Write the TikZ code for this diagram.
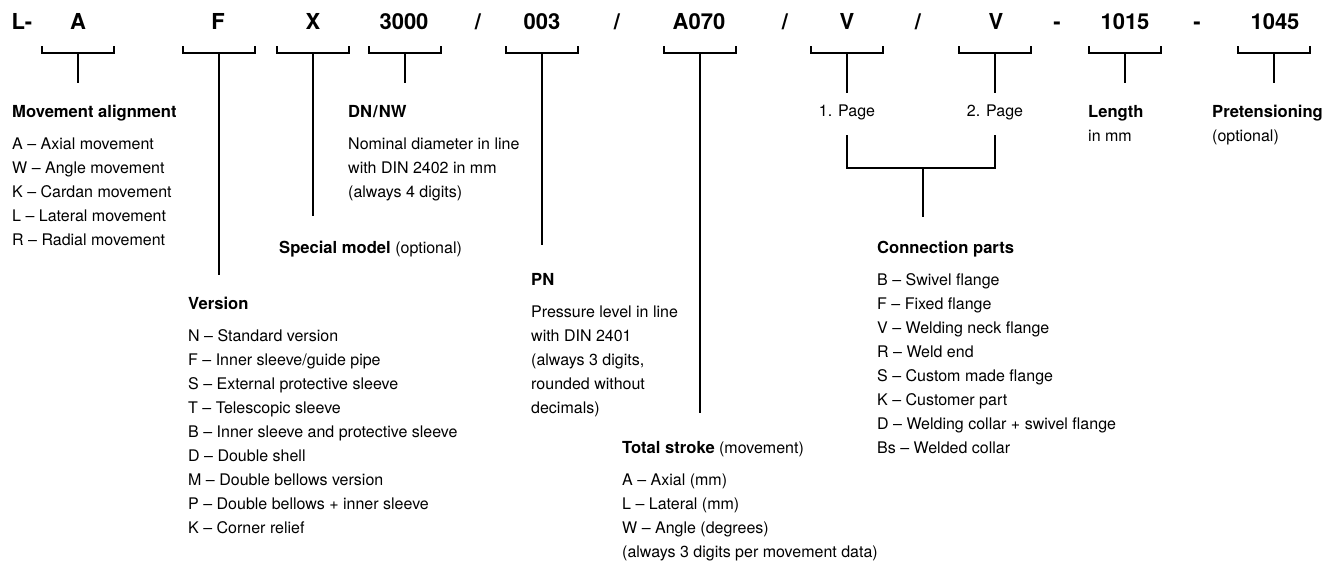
\documentclass[tikz,border=0pt]{standalone}
\usepackage{fontspec}
\setmainfont{TeX Gyre Heros}
\newcommand{\hd}[1]{{\fontsize{16.6}{24}\selectfont\bfseries #1}}

\begin{document}
\begin{tikzpicture}[x=1pt, y=-1pt,
    code/.style={font=\fontsize{22}{22}\selectfont\bfseries, inner sep=0pt, anchor=base},
    brk/.style={line width=2.5pt},
    info/.style={font=\fontsize{16}{24}\selectfont, align=left, anchor=north west, inner sep=0pt},
    page/.style={font=\fontsize{16}{24}\selectfont, inner sep=0pt, anchor=base}]

    \useasboundingbox (0,0) rectangle (1333,563);

    % Type code
    \node[code] (cL)  at (22,29.8)   {L-};
    \node[code] (cA)  at (78,29.8)   {A};
    \node[code] (cF)  at (218,29.8)  {F};
    \node[code] (cX)  at (313,29.8)  {X};
    \node[code] (cDN) at (404,29.8)  {3000};
    \node[code] (s1)  at (478,29.8)  {/};
    \node[code] (cPN) at (542,29.8)  {003};
    \node[code] (s2)  at (617,29.8)  {/};
    \node[code] (cTS) at (699,29.8)  {A070};
    \node[code] (s3)  at (785,29.8)  {/};
    \node[code] (cV1) at (847,29.8)  {V};
    \node[code] (s4)  at (918,29.8)  {/};
    \node[code] (cV2) at (996,29.8)  {V};
    \node[code] (h1)  at (1057,29.8) {-};
    \node[code] (cLe) at (1125,29.8) {1015};
    \node[code] (h2)  at (1197,29.8) {-};
    \node[code] (cPt) at (1275,29.8) {1045};

    % Bracket centres and stem ends
    \coordinate (bA)  at (78,53);   \coordinate (eA)  at (78,83);
    \coordinate (bF)  at (219,53);  \coordinate (eF)  at (219,275);
    \coordinate (bX)  at (313,53);  \coordinate (eX)  at (313,216);
    \coordinate (bDN) at (405,53);  \coordinate (eDN) at (405,83);
    \coordinate (bPN) at (542,53);  \coordinate (ePN) at (542,245);
    \coordinate (bTS) at (700,53);  \coordinate (eTS) at (700,413);
    \coordinate (bV1) at (847,53);  \coordinate (eV1) at (847,93);
    \coordinate (bV2) at (995,53);  \coordinate (eV2) at (995,93);
    \coordinate (bLe) at (1125,53); \coordinate (eLe) at (1125,83);
    \coordinate (bPt) at (1274,53); \coordinate (ePt) at (1274,83);

    % Brackets below the code
    \draw[brk] (bA)  ++(-36,-7) -- ++(0,7) -- ++(72,0) -- ++(0,-7);
    \draw[brk] (bF)  ++(-36,-7) -- ++(0,7) -- ++(72,0) -- ++(0,-7);
    \draw[brk] (bX)  ++(-36,-7) -- ++(0,7) -- ++(72,0) -- ++(0,-7);
    \draw[brk] (bDN) ++(-36,-7) -- ++(0,7) -- ++(72,0) -- ++(0,-7);
    \draw[brk] (bPN) ++(-36,-7) -- ++(0,7) -- ++(72,0) -- ++(0,-7);
    \draw[brk] (bTS) ++(-36,-7) -- ++(0,7) -- ++(72,0) -- ++(0,-7);
    \draw[brk] (bV1) ++(-36,-7) -- ++(0,7) -- ++(72,0) -- ++(0,-7);
    \draw[brk] (bV2) ++(-36,-7) -- ++(0,7) -- ++(72,0) -- ++(0,-7);
    \draw[brk] (bLe) ++(-36,-7) -- ++(0,7) -- ++(72,0) -- ++(0,-7);
    \draw[brk] (bPt) ++(-36,-7) -- ++(0,7) -- ++(72,0) -- ++(0,-7);

    % Stems
    \draw[brk] (bA) -- (eA);
    \draw[brk] (bF) -- (eF);
    \draw[brk] (bX) -- (eX);
    \draw[brk] (bDN) -- (eDN);
    \draw[brk] (bPN) -- (ePN);
    \draw[brk] (bTS) -- (eTS);
    \draw[brk] (bV1) -- (eV1);
    \draw[brk] (bV2) -- (eV2);
    \draw[brk] (bLe) -- (eLe);
    \draw[brk] (bPt) -- (ePt);

    % Both flange pages joined
    \node[page] (pg1) at (847,116.8) {1. Page};
    \node[page] (pg2) at (995,116.8) {2. Page};
    \coordinate (p1) at (847,135);
    \coordinate (p2) at (995,135);
    \coordinate (pm) at (923,168);
    \coordinate (pe) at (923,217);
    \draw[brk] (p1) |- (pm) -| (p2);
    \draw[brk] (pm) -- (pe);

    % Explanations
    \node[info] (tMov) at (12,105.2) {\hd{Movement alignment}\\[8pt]
        A – Axial movement\\
        W – Angle movement\\
        K – Cardan movement\\
        L – Lateral movement\\
        R – Radial movement};
    \node[info] (tDN) at (348,105.2) {\hd{DN\kern1pt/\kern1pt NW}\\[8pt]
        Nominal diameter in line\\
        with DIN 2402 in mm\\
        (always 4 digits)};
    \node[info] (tSp) at (279,241.2) {\hd{Special model} (optional)};
    \node[info] (tVer) at (188,297.2) {\hd{Version}\\[8pt]
        N – Standard version\\
        F – Inner sleeve/guide pipe\\
        S – External protective sleeve\\
        T – Telescopic sleeve\\
        B – Inner sleeve and protective sleeve\\
        D – Double shell\\
        M – Double bellows version\\
        P – Double bellows + inner sleeve\\
        K – Corner relief};
    \node[info] (tPN) at (531,273.2) {\hd{PN}\\[8pt]
        Pressure level in line\\
        with DIN 2401\\
        (always 3 digits,\\
        rounded without\\
        decimals)};
    \node[info] (tTS) at (622,441.2) {\hd{Total stroke} (movement)\\[8pt]
        A – Axial (mm)\\
        L – Lateral (mm)\\
        W – Angle (degrees)\\
        (always 3 digits per movement data)};
    \node[info] (tCon) at (877,241.2) {\hd{Connection parts}\\[8pt]
        B – Swivel flange\\
        F – Fixed flange\\
        V – Welding neck flange\\
        R – Weld end\\
        S – Custom made flange\\
        K – Customer part\\
        D – Welding collar + swivel flange\\
        Bs – Welded collar};
    \node[info] (tLe) at (1088,105.2) {\hd{Length}\\ in mm};
    \node[info] (tPt) at (1212,105.2) {\hd{Pretensioning}\\ (optional)};
\end{tikzpicture}
\end{document}
